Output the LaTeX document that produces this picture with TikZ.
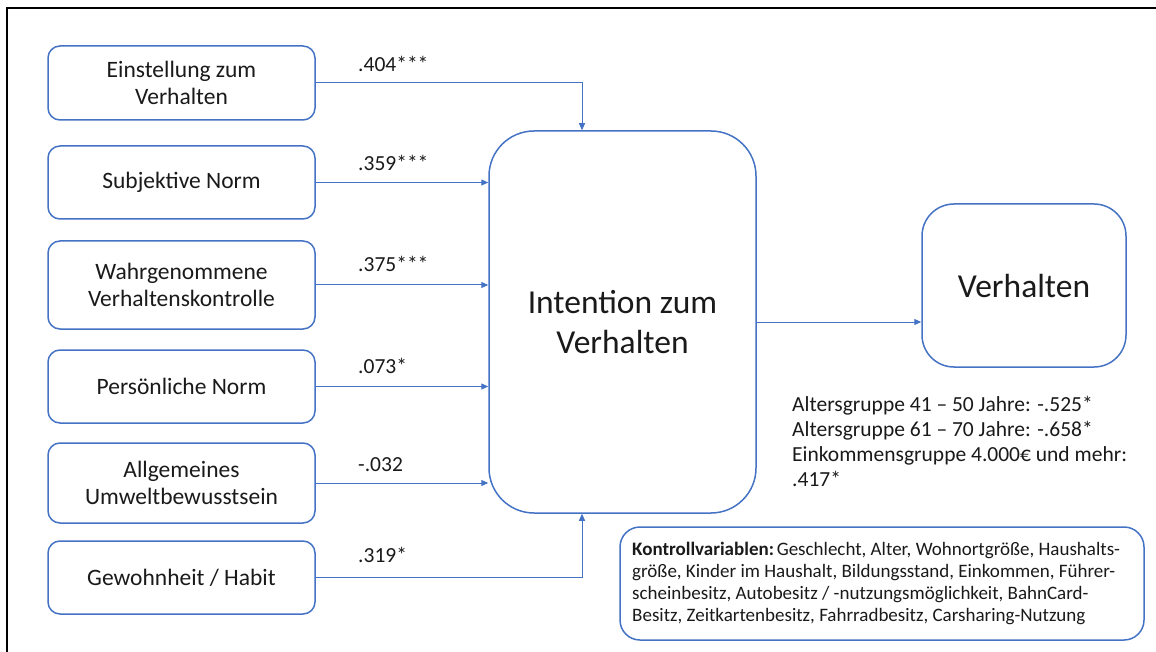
\documentclass[tikz,border=0pt]{standalone}
\usepackage{fontspec}
\setmainfont{Carlito}
\usetikzlibrary{arrows.meta}
\definecolor{boxblue}{HTML}{4472C4}
\definecolor{txt}{HTML}{1A1A1A}
\begin{document}
\begin{tikzpicture}[x=1pt,y=-1pt,
  inbox/.style={draw=boxblue, line width=1.5pt, rounded corners=12pt,
    minimum width=267pt, align=center, text=txt, inner sep=0pt,
    font=\fontsize{23.5}{27}\selectfont},
  bigbox/.style={draw=boxblue, line width=1.5pt, align=center, text=txt, inner sep=0pt},
  conn/.style={draw=boxblue, line width=1pt, -{Triangle[length=7pt,width=6pt]}},
  coef/.style={anchor=base west, inner sep=0pt, text=txt, font=\fontsize{21.5}{25}\selectfont}]
\useasboundingbox (0,0) rectangle (1156,652);
\fill[white] (0,0) rectangle (1156,652);

% outer frame (top and left edges)
\draw[line width=2pt] (6.5,652) -- (6.5,8.5) -- (1156,8.5);

% predictor boxes
\node[inbox, minimum height=74pt] (b1) at (181.5,83) {Einstellung zum\\Verhalten};
\node[inbox, minimum height=73pt] (b2) at (181.5,182.5) {Subjektive Norm};
\node[inbox, minimum height=88pt] (b3) at (181.5,285) {Wahrgenommene\\Verhaltenskontrolle};
\node[inbox, minimum height=73pt] (b4) at (181.5,386.5) {Persönliche Norm};
\node[inbox, minimum height=80pt] (b5) at (181.5,483) {Allgemeines\\Umweltbewusstsein};
\node[inbox, minimum height=73pt] (b6) at (181.5,577.5) {Gewohnheit / Habit};

% intention and behaviour
\node[bigbox, rounded corners=45pt, minimum width=267pt, minimum height=382pt,
  font=\fontsize{33.5}{40}\selectfont] (int) at (622.5,322) {Intention zum\\Verhalten};
\node[bigbox, rounded corners=32pt, minimum width=204pt, minimum height=163pt,
  font=\fontsize{33.5}{40}\selectfont] (verh) at (1024,285.5) {Verhalten};

% control variables (the base anchor of a multi-line node sits on its last line)
\node[draw=boxblue, line width=1.5pt, rounded corners=20pt, minimum width=524pt,
  minimum height=113pt, text=txt] (ctrl) at (882,583.5) {};
\node[anchor=base west, inner sep=0pt, align=left, text=txt,
  font=\fontsize{19}{22}\selectfont] (ctrltext) at (632,621)
  {\textbf{Kontrollvariablen:}\hspace{0.15em}Geschlecht, Alter, Wohnortgröße, Haushalts-\\
   größe, Kinder im Haushalt, Bildungsstand, Einkommen, Führer-\\
   scheinbesitz, Autobesitz / -nutzungsmöglichkeit, BahnCard-\\
   Besitz, Zeitkartenbesitz, Fahrradbesitz, Carsharing-Nutzung};

% significant control effects
\node[anchor=base west, inner sep=0pt, align=left, text=txt,
  font=\fontsize{21.5}{25}\selectfont] (stats) at (792,486)
  {Altersgruppe 41 – 50 Jahre: -.525*\\
   Altersgruppe 61 – 70 Jahre: -.658*\\
   Einkommensgruppe 4.000€ und mehr:\\
   .417*};

% paths
\draw[conn] (b1.east) -| ([xshift=-40.5pt]int.north);
\draw[conn] (b2.east) -- (b2.east -| int.west);
\draw[conn] (b3.east) -- (b3.east -| int.west);
\draw[conn] (b4.east) -- (b4.east -| int.west);
\draw[conn] (b5.east) -- (b5.east -| int.west);
\draw[conn] (b6.east) -| ([xshift=-40.5pt]int.south);
\draw[conn] (int.east) -- (int.east -| verh.west);

% path coefficients
\node[coef] (c1) at (358,72) {.404***};
\node[coef] (c2) at (358,171) {.359***};
\node[coef] (c3) at (358,272) {.375***};
\node[coef] (c4) at (358,373) {.073*};
\node[coef] (c5) at (358,471) {-.032};
\node[coef] (c6) at (358,562) {.319*};
\end{tikzpicture}
\end{document}
